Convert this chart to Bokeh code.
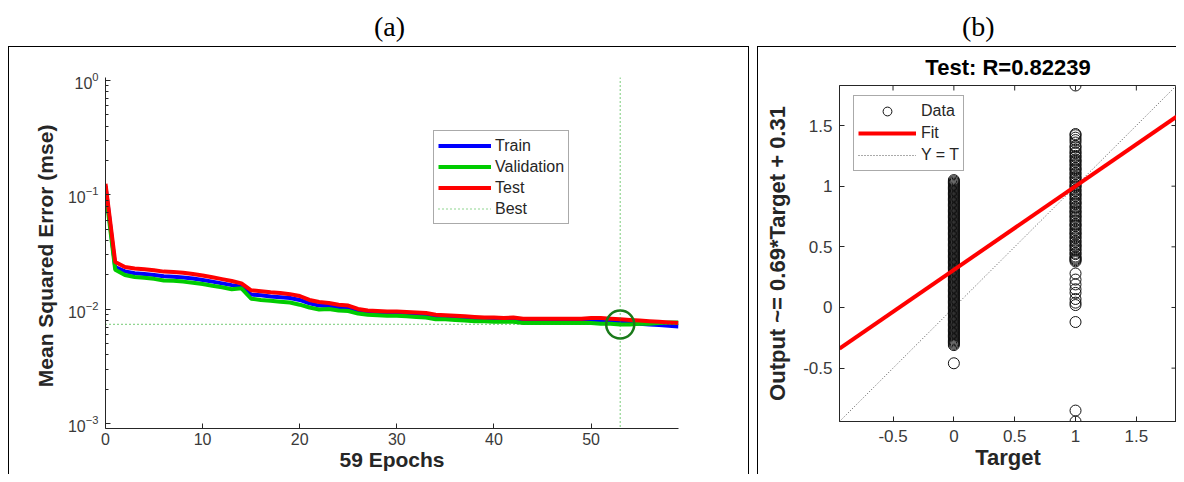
from math import pi
from bokeh.plotting import figure
from bokeh.models import (Range1d, FixedTicker, Legend, LegendItem, Div, Span)
from bokeh.layouts import row, column
from bokeh.embed import file_html
from bokeh.resources import INLINE

# ---------------- data: (a) performance ----------------
epochs = list(range(60))
train_mse = [0.120, 0.0235, 0.0215, 0.0207, 0.0204, 0.0200, 0.0195, 0.0193, 0.0190, 0.0186,
             0.0181, 0.0175, 0.0169, 0.0163, 0.0158, 0.0135, 0.0133, 0.0130, 0.0128, 0.0126,
             0.0121, 0.0113, 0.0108, 0.0107, 0.0104, 0.0102, 0.0096, 0.0093, 0.0092, 0.0091,
             0.0091, 0.0090, 0.0089, 0.0088, 0.0086, 0.0085, 0.0084, 0.0083, 0.0082, 0.0081,
             0.0081, 0.0080, 0.0080, 0.0079, 0.0079, 0.0079, 0.0079, 0.0079, 0.0079, 0.0079,
             0.0079, 0.0079, 0.0078, 0.0077, 0.0076, 0.0075, 0.0074, 0.0073, 0.0072, 0.0071]
val_mse = [0.110, 0.0222, 0.0200, 0.0192, 0.0189, 0.0185, 0.0179, 0.0178, 0.0175, 0.0171,
           0.0167, 0.0161, 0.0156, 0.0150, 0.0153, 0.0124, 0.0121, 0.0119, 0.0117, 0.0115,
           0.0110, 0.0104, 0.0100, 0.0101, 0.0098, 0.0097, 0.0092, 0.0090, 0.0089, 0.0088,
           0.0088, 0.0087, 0.0086, 0.0085, 0.0082, 0.0082, 0.0081, 0.0080, 0.0079, 0.0079,
           0.0078, 0.0078, 0.0078, 0.0076, 0.0076, 0.0076, 0.0076, 0.0076, 0.0076, 0.0076,
           0.0076, 0.0075, 0.0075, 0.0074, 0.0074, 0.0075, 0.0075, 0.0076, 0.0077, 0.0077]
test_mse = [0.125, 0.0260, 0.0235, 0.0228, 0.0224, 0.0220, 0.0214, 0.0212, 0.0209, 0.0204,
            0.0198, 0.0191, 0.0184, 0.0177, 0.0169, 0.0147, 0.0144, 0.0141, 0.0139, 0.0136,
            0.0131, 0.0121, 0.0116, 0.0114, 0.0110, 0.0108, 0.0101, 0.0098, 0.0097, 0.0096,
            0.0096, 0.0095, 0.0094, 0.0093, 0.0090, 0.0089, 0.0088, 0.0087, 0.0086, 0.0085,
            0.0085, 0.0084, 0.0085, 0.0083, 0.0083, 0.0083, 0.0083, 0.0083, 0.0083, 0.0083,
            0.0084, 0.0084, 0.0083, 0.0082, 0.0081, 0.0080, 0.0079, 0.0078, 0.0077, 0.0076]
best_epoch = 53
best_mse = 0.0074
xticks_a = [0, 10, 20, 30, 40, 50]
yticks_a = [1e-3, 1e-2, 1e-1, 1.0]
yminor_a = [m * d for d in [1e-3, 1e-2, 1e-1] for m in range(2, 10)]

# ---------------- data: (b) regression ----------------
target_values = [0, 1]
outputs_t0 = [-0.46, -0.31, -0.30, -0.29, -0.28, -0.27, -0.26, -0.25, -0.24, -0.23, -0.22, -0.21,
              -0.20, -0.19, -0.18, -0.17, -0.16, -0.15, -0.14, -0.13, -0.12, -0.11, -0.10, -0.09,
              -0.08, -0.07, -0.06, -0.05, -0.04, -0.03, -0.02, -0.01, 0.00, 0.01, 0.02, 0.03,
              0.04, 0.05, 0.06, 0.07, 0.08, 0.09, 0.10, 0.11, 0.12, 0.13, 0.14, 0.15, 0.16, 0.17,
              0.18, 0.19, 0.20, 0.21, 0.22, 0.23, 0.24, 0.25, 0.26, 0.27, 0.28, 0.29, 0.30, 0.31,
              0.32, 0.33, 0.34, 0.35, 0.36, 0.37, 0.38, 0.39, 0.40, 0.41, 0.42, 0.43, 0.44, 0.45,
              0.46, 0.47, 0.48, 0.49, 0.50, 0.51, 0.52, 0.53, 0.54, 0.55, 0.56, 0.57, 0.58, 0.59,
              0.60, 0.61, 0.62, 0.63, 0.64, 0.65, 0.66, 0.67, 0.68, 0.69, 0.70, 0.71, 0.72, 0.73,
              0.74, 0.75, 0.76, 0.77, 0.78, 0.79, 0.80, 0.81, 0.82, 0.83, 0.84, 0.85, 0.86, 0.87,
              0.88, 0.89, 0.90, 0.91, 0.92, 0.93, 0.94, 0.95, 0.96, 0.97, 0.98, 0.99, 1.00, 1.01,
              1.02, 1.03, 1.04, 1.05]
outputs_t1 = [-0.94, -0.85, -0.12, 0.02, 0.04, 0.07, 0.12, 0.15, 0.19, 0.23, 0.28, 0.38, 0.39,
              0.40, 0.41, 0.42, 0.44, 0.45, 0.47, 0.48, 0.50, 0.51, 0.52, 0.54, 0.55, 0.57, 0.58,
              0.60, 0.61, 0.62, 0.64, 0.65, 0.67, 0.68, 0.69, 0.71, 0.72, 0.74, 0.75, 0.76, 0.78,
              0.79, 0.80, 0.82, 0.83, 0.85, 0.86, 0.87, 0.89, 0.90, 0.92, 0.93, 0.94, 0.96, 0.97,
              0.99, 1.00, 1.01, 1.03, 1.04, 1.06, 1.07, 1.08, 1.10, 1.11, 1.13, 1.14, 1.15, 1.17,
              1.18, 1.20, 1.21, 1.22, 1.24, 1.25, 1.27, 1.28, 1.30, 1.32, 1.33, 1.36, 1.38, 1.40,
              1.42, 1.43, 1.83]
fit_slope = 0.69
fit_intercept = 0.31
r_value = "0.82239"
ticks_b = [-0.5, 0, 0.5, 1, 1.5]
tick_labels_b = ["-0.5", "0", "0.5", "1", "1.5"]

FONT = "Liberation Sans"
AX = "#262626"
TICK_TXT = "#3a3a3a"


def style_axis(ax, size):
    ax.axis_line_color = AX
    ax.major_tick_line_color = AX
    ax.minor_tick_line_color = AX
    ax.major_tick_in = 5
    ax.major_tick_out = 0
    ax.minor_tick_in = 3
    ax.minor_tick_out = 0
    ax.major_label_text_font = FONT
    ax.major_label_text_font_size = size
    ax.major_label_text_color = TICK_TXT
    ax.axis_label_text_font = FONT
    ax.axis_label_text_font_style = "bold"
    ax.axis_label_text_color = "#262626"


# ---------------- panel (a) ----------------
pa = figure(width=739, height=427, y_axis_type="log",
            x_range=Range1d(0, 59), y_range=Range1d(10 ** -3.04, 10 ** 0.026),
            output_backend="svg", toolbar_location=None, margin=0,
            min_border_left=96, min_border_right=70, min_border_top=30, min_border_bottom=46)
pa.outline_line_color = None
pa.grid.visible = False
pa.xaxis.ticker = FixedTicker(ticks=xticks_a)
pa.yaxis.ticker = FixedTicker(ticks=yticks_a, minor_ticks=yminor_a)
style_axis(pa.xaxis[0], "16px")
style_axis(pa.yaxis[0], "16px")
pa.xaxis.minor_tick_in = 0
pa.xaxis.major_label_standoff = 4
pa.xaxis.axis_label = "59 Epochs"
pa.xaxis.axis_label_text_font_size = "21px"
pa.xaxis.axis_label_standoff = 0
pa.yaxis.axis_label = "Mean Squared Error  (mse)"
pa.yaxis.axis_label_text_font_size = "21px"
pa.yaxis.major_label_standoff = 7
pa.yaxis.axis_label_standoff = 8

r_train = pa.line(epochs, train_mse, line_color="#0000ff", line_width=4)
r_val = pa.line(epochs, val_mse, line_color="#00cc00", line_width=4)
r_test = pa.line(epochs, test_mse, line_color="#ff0000", line_width=4)
r_best = pa.line([pa.x_range.start, pa.x_range.end], [best_mse, best_mse],
                 line_color="#22aa22", line_width=1.2, line_dash="1 3")
pa.add_layout(Span(location=best_epoch, dimension="height", line_color="#22aa22",
                   line_width=1.2, line_dash="1 3"))
pa.scatter([best_epoch], [best_mse], marker="circle", size=28, fill_color=None,
           line_color="#1a7a1a", line_width=2.5)

leg_a = Legend(items=[LegendItem(label="Train", renderers=[r_train]),
                      LegendItem(label="Validation", renderers=[r_val]),
                      LegendItem(label="Test", renderers=[r_test]),
                      LegendItem(label="Best", renderers=[r_best])],
               location=(328, 204))
leg_a.label_text_font = FONT
leg_a.label_text_font_size = "16px"
leg_a.label_text_color = "#262626"
leg_a.glyph_width = 53
leg_a.glyph_height = 21
leg_a.label_height = 21
leg_a.spacing = 0
leg_a.padding = 4
leg_a.margin = 0
leg_a.label_standoff = 4
leg_a.border_line_color = "#555555"
leg_a.border_line_width = 1
pa.add_layout(leg_a)

# ---------------- panel (b) ----------------
all_vals = target_values + outputs_t0 + outputs_t1
lo, hi = min(all_vals), max(all_vals)
pb = figure(width=418, height=427, x_range=Range1d(lo, hi), y_range=Range1d(lo, hi),
            output_backend="svg", toolbar_location=None, margin=0,
            title="Test: R=" + r_value,
            min_border_left=81, min_border_right=0, min_border_top=36, min_border_bottom=53)
pb.grid.visible = False
pb.outline_line_color = AX
pb.title.text_font = FONT
pb.title.text_font_size = "22px"
pb.title.text_font_style = "bold"
pb.title.text_color = "#000000"
pb.title.align = "center"
pb.title.standoff = 11
overrides = {t: s for t, s in zip(ticks_b, tick_labels_b)}
for ax in [pb.xaxis[0], pb.yaxis[0]]:
    ax.ticker = FixedTicker(ticks=ticks_b)
    ax.major_label_overrides = overrides
    style_axis(ax, "17px")
    ax.minor_tick_in = 0
pb.xaxis.axis_label = "Target"
pb.xaxis.axis_label_text_font_size = "22px"
pb.xaxis.major_label_standoff = 8
pb.xaxis.axis_label_standoff = 0
pb.yaxis.axis_label = "Output ~= 0.69*Target + 0.31"
pb.yaxis.axis_label_text_font_size = "22px"
pb.yaxis.major_label_standoff = 7
pb.yaxis.axis_label_standoff = 10

# inward ticks on the top and right edges of the box
pb.ray(x=ticks_b, y=[hi] * len(ticks_b), length=5, length_units="screen",
       angle=-pi / 2, line_color=AX, line_width=1)
pb.ray(x=[hi] * len(ticks_b), y=ticks_b, length=5, length_units="screen",
       angle=pi, line_color=AX, line_width=1)

r_yt = pb.line([lo, hi], [lo, hi], line_color="#555555", line_width=1, line_dash="1 2")
xs_data = [target_values[0]] * len(outputs_t0) + [target_values[1]] * len(outputs_t1)
ys_data = outputs_t0 + outputs_t1
r_data = pb.scatter(xs_data, ys_data, marker="circle", size=11, fill_color=None,
                    line_color="#111111", line_width=1)
r_fit = pb.line([lo, hi], [fit_slope * lo + fit_intercept, fit_slope * hi + fit_intercept],
                line_color="#ff0000", line_width=4)

leg_b = Legend(items=[LegendItem(label="Data", renderers=[r_data]),
                      LegendItem(label="Fit", renderers=[r_fit]),
                      LegendItem(label="Y = T", renderers=[r_yt])],
               location=(14, 250))
leg_b.label_text_font = FONT
leg_b.label_text_font_size = "16px"
leg_b.label_text_color = "#262626"
leg_b.glyph_width = 58
leg_b.glyph_height = 22
leg_b.label_height = 22
leg_b.spacing = 0
leg_b.padding = 4
leg_b.margin = 0
leg_b.label_standoff = 5
leg_b.border_line_color = "#555555"
leg_b.border_line_width = 1
pb.add_layout(leg_b)


# ---------------- captions and panel boxes ----------------
def line_div(w, h):
    return Div(text="", width=w, height=h, margin=0,
               styles={"background-color": "#000000"})


cap_style = ("font-family:'Liberation Serif';font-size:28px;line-height:38px;"
             "color:#000;white-space:nowrap;margin:0;")
div_a = Div(text='<div style="%spadding-left:366px">(a)</div>' % cap_style,
            width=741, height=38, margin=0)
div_b = Div(text='<div style="%spadding-left:205px">(b)</div>' % cap_style,
            width=419, height=38, margin=0)

panel_a = column(div_a, line_div(741, 1),
                 row(line_div(1, 427), pa, line_div(1, 427)))
panel_b = column(div_b, line_div(419, 1),
                 row(line_div(1, 427), pb))
layout = row(panel_a, panel_b, spacing=8, margin=(8, 8, 0, 8))

with open("out.html", "w") as f:
    f.write(file_html(layout, INLINE))
